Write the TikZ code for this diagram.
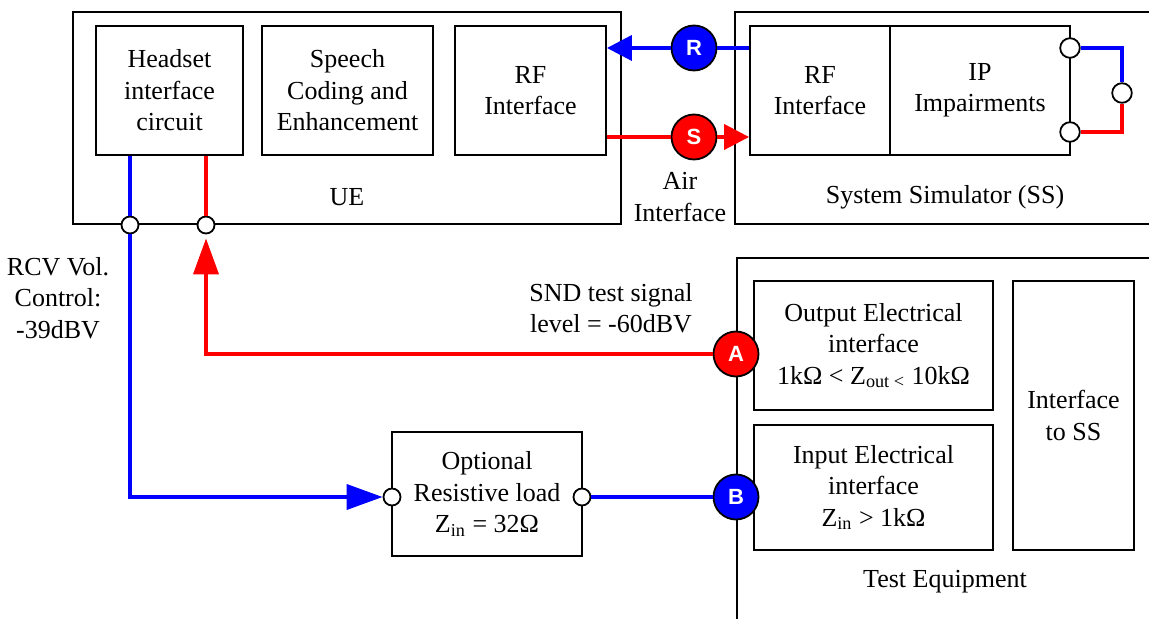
\documentclass[tikz,border=0pt]{standalone}
\usepackage{fontspec}
\setmainfont{Liberation Serif}
\newfontfamily\tagfont{Liberation Sans}
\usetikzlibrary{arrows.meta}

\begin{document}
\begin{tikzpicture}[x=0.5pt,y=-0.5pt,
  every node/.style={font=\fontsize{13}{15.7}\selectfont,align=center},
  blk/.style={draw,line width=0.9pt,inner sep=0pt},
  port/.style={circle,draw,fill=white,line width=0.9pt,inner sep=0pt,minimum size=8.5pt},
  bigport/.style={port,minimum size=9.8pt},
  tag/.style={circle,draw,line width=0.9pt,inner sep=0pt,minimum size=22.5pt,text=white,
    font=\tagfont\bfseries\fontsize{11}{13}\selectfont},
  rd/.style={red,line width=1.9pt},
  bl/.style={blue,line width=1.9pt},
  tipshort/.style={-{Triangle[length=12.5pt,width=12.5pt]}},
  tiplong/.style={-{Triangle[length=18pt,width=12.5pt]}}]
  \useasboundingbox (0,0) rectangle (1149,619);

  % UE
  \node[blk,minimum width=274pt,minimum height=106pt] (ue) at (347,118) {};
  \node[blk,minimum width=73.5pt,minimum height=64.5pt] (hs) at (169.5,90.5) {Headset\\interface\\circuit};
  \node[blk,minimum width=85.5pt,minimum height=64.5pt] (sc) at (347.5,90.5) {Speech\\Coding and\\Enhancement};
  \node[blk,minimum width=75.5pt,minimum height=64.5pt] (rfu) at (530.5,90.5) {RF\\Interface};
  \node (uelbl) at (347,197) {UE};

  % System simulator (open on the right)
  \draw[line width=0.9pt] (1160,12) -- (735,12) -- (735,224) -- (1160,224);
  \node[blk,minimum width=70pt,minimum height=64.5pt] (rfs) at (820,90.5) {RF\\Interface};
  \node[blk,minimum width=90pt,minimum height=64.5pt] (ip) at (980,90.5) {IP\\Impairments};
  \node (sslbl) at (945,197) {System Simulator (SS)};
  \node (air) at (680,197) {Air\\Interface};

  % Test equipment (open on the right and bottom)
  \draw[line width=0.9pt] (1160,258) -- (737,258) -- (737,630);
  \node[blk,minimum width=119.5pt,minimum height=64.5pt] (oe) at (873.5,345.5)
    {Output Electrical\\interface\\1kΩ < Z\textsubscript{out <} 10kΩ};
  \node[blk,minimum width=119.5pt,minimum height=62.5pt] (ie) at (873.5,487.5)
    {Input Electrical\\interface\\Z\textsubscript{in} > 1kΩ};
  \node[blk,minimum width=60.5pt,minimum height=134.5pt] (its) at (1073.5,415.5) {Interface\\to SS};
  \node (telbl) at (945,582) {Test Equipment};

  % Optional load
  \node[blk,minimum width=95pt,minimum height=62pt] (ol) at (487,494)
    {Optional\\Resistive load\\Z\textsubscript{in} = 32Ω};

  % labels
  \node (snd) at (611,308) {SND test signal\\level = -60dBV};
  \node (rcv) at (58,298) {RCV Vol.\\Control:\\-39dBV};

  % ports
  \node[port] (p1) at (130,225) {};
  \node[port] (p2) at (206,225) {};
  \node[port] (ol1) at (392,497) {};
  \node[port] (ol2) at (582,497) {};
  \node[bigport] (q1) at (1070,48) {};
  \node[bigport] (q2) at (1070,132) {};
  \node[bigport] (q3) at (1122,93) {};

  % test points
  \node[tag,fill=blue] (r) at (694,48) {R};
  \node[tag,fill=red] (s) at (694,137) {S};
  \node[tag,fill=red] (a) at (736,354) {A};
  \node[tag,fill=blue] (b) at (736,497) {B};

  % receive path
  \draw[bl] (rfs.west |- r) -- (r);
  \draw[bl,tipshort] (r) -- (rfu.east |- r);
  \draw[bl] (hs.south -| p1) -- (p1);
  \draw[bl,tiplong] (p1) |- (ol1);
  \draw[bl] (ol2) -- (b);

  % send path
  \draw[rd] (rfu.east |- s) -- (s);
  \draw[rd,tipshort] (s) -- (rfs.west |- s);
  \draw[rd] (hs.south -| p2) -- (p2);
  \draw[rd,tiplong,shorten >=2pt] (a) -| (p2);

  % impairment loop
  \draw[bl] (q1) -| (q3);
  \draw[rd] (q2) -| (q3);
\end{tikzpicture}
\end{document}
